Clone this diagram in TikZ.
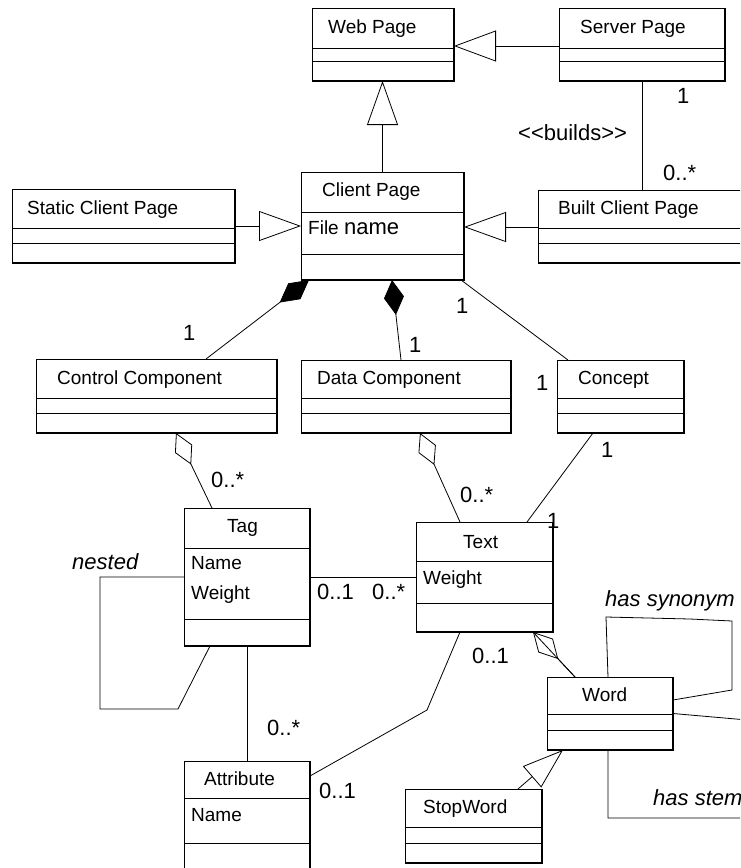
\documentclass[tikz,border=0pt]{standalone}
\usepackage{fontspec}
\setmainfont{Liberation Sans}
\usetikzlibrary{arrows.meta}

\tikzset{
  cls/.style={draw, line width=0.9pt, fill=white, anchor=north west,
    inner sep=0pt, outer sep=0pt},
  txt/.style={anchor=base west, inner sep=0pt, font=\fontsize{19}{22}\selectfont},
  mult/.style={anchor=base west, inner sep=0pt, font=\fontsize{22}{26}\selectfont},
  role/.style={anchor=base west, inner sep=0pt, font=\fontsize{22}{26}\selectfont\itshape},
  conn/.style={line width=0.8pt, line join=miter},
}

% class box: name, x1, y1, x2, y2, first divider, second divider
\newcommand\umlbox[7]{%
  \node[cls, minimum width={#4pt-#2pt}, minimum height={#5pt-#3pt}] (#1) at (#2,#3) {};
  \draw[line width=0.9pt] (#2,#6) -- (#4,#6);
  \draw[line width=0.9pt] (#2,#7) -- (#4,#7);
  \draw[line width=1.8pt] (#1.south west) -- (#1.south east);
  \draw[line width=1.3pt] (#1.south east) -- (#1.north east);
}

\begin{document}
\begin{tikzpicture}[x=1pt, y=-1pt]
\useasboundingbox (0,0) rectangle (740,868);
\fill[white] (0,0) rectangle (740,868);
\clip (0,0) rectangle (740,868);

% ---------- classes ----------
\umlbox{webpage}{312}{8}{454}{81}{48}{61}
\umlbox{server}{559}{8}{725}{81}{48}{61}
\umlbox{client}{301}{172}{464}{280}{212}{254}
\umlbox{static}{12}{189}{235}{263}{228}{243}
\umlbox{built}{538}{190}{800}{263}{228}{243}
\umlbox{control}{36}{359}{277}{433}{398}{413}
\umlbox{data}{301}{360}{511}{433}{398}{413}
\umlbox{concept}{557}{360}{684}{433}{398}{413}
\umlbox{tag}{184}{508}{310}{646}{548}{619}
\umlbox{text}{416}{522}{553}{632}{561}{603}
\umlbox{word}{547}{677}{673}{750}{714}{730}
\umlbox{attribute}{184}{761}{310}{900}{798}{843}
\umlbox{stopword}{405}{789}{542}{863}{827}{843}

% ---------- class texts ----------
\node[txt] (webpageT) at (328,33) {Web Page};
\node[txt] (serverT) at (580,33) {Server Page};
\node[txt] (clientT) at (322,196) {Client Page};
\node[txt] (clientA) at (308,234) {File {\fontsize{22}{26}\selectfont name}};
\node[txt] (staticT) at (27,214) {Static Client Page};
\node[txt] (builtT) at (558,214) {Built Client Page};
\node[txt] (controlT) at (57,384) {Control Component};
\node[txt] (dataT) at (317,384) {Data Component};
\node[txt] (conceptT) at (578,384) {Concept};
\node[txt] (tagT) at (227,532) {Tag};
\node[txt] (tagA) at (191,569) {Name};
\node[txt] (tagB) at (191,599) {Weight};
\node[txt] (textT) at (463,548) {Text};
\node[txt] (textA) at (423,584) {Weight};
\node[txt] (wordT) at (582,701) {Word};
\node[txt] (attributeT) at (204,785) {Attribute};
\node[txt] (attributeA) at (191,821) {Name};
\node[txt] (stopwordT) at (423,813) {StopWord};

% ---------- generalizations ----------
\draw[conn, -{Triangle[open, length=42pt, width=31pt]}]
  (server.west |- 0,46) -- (webpage.east |- 0,46);
\draw[conn, -{Triangle[open, length=44pt, width=31pt]}]
  (client.north) -- (client.north |- webpage.south);
\draw[conn, -{Triangle[open, length=42pt, width=30pt]}]
  (static.east) -- (static.east -| client.west);
\draw[conn, -{Triangle[open, length=42pt, width=30pt]}]
  (built.west |- 0,227) -- (client.east |- 0,227);
\draw[conn, -{Triangle[open, length=41pt, width=28pt]}]
  ([xshift=113pt]stopword.north west) -- ([xshift=16pt]word.south west);

% ---------- associations ----------
\draw[conn] (server.south) -- (server.south |- built.north);
\draw[conn, -{Diamond[length=37pt, width=20pt]}]
  ([xshift=170pt]control.north west) -- ([xshift=8pt]client.south west);
\draw[conn, -{Diamond[length=35pt, width=20pt]}]
  ([xshift=100pt]data.north west) -- ([xshift=91pt]client.south west);
\draw[conn] ([xshift=-3pt]client.south east) -- ([xshift=11pt]concept.north west);
\draw[conn, -{Diamond[open, length=35pt, width=19pt]}]
  ([xshift=28pt]tag.north west) -- ([xshift=140pt]control.south west);
\draw[conn, -{Diamond[open, length=35pt, width=19pt]}]
  ([xshift=44pt]text.north west) -- ([xshift=119pt]data.south west);
\draw[conn] ([xshift=36pt]concept.south west) -- ([xshift=111pt]text.north west);
\draw[conn] (tag.east) -- (text.west);
\draw[conn] (tag.south) -- (attribute.north);

% nested tags
\draw[conn] (tag.west) -- ++(-84,0) -- ++(0,132) -- ++(78,0)
  -- ([xshift=26pt]tag.south west);

% text to attribute
\coordinate (textbend) at (427,710);
\draw[conn] ([xshift=44pt]text.south west) -- (textbend)
  -- ([yshift=-15pt]attribute.north east);

% word aggregated in text
\draw[conn, -{Diamond[open, length=37pt, width=20pt]}]
  ([xshift=28pt]word.north west) -- ([xshift=117pt]text.south west);
\draw[conn] ([xshift=28pt]word.north west) -- ([xshift=117pt]text.south west);

% synonym loop
\draw[conn] ([xshift=61pt]word.north west) -- (606,617) -- (690,619)
  -- (732,621) -- (732,690) -- ([yshift=-23pt]word.north east);

% stem loop
\draw[conn] (word.east) -- (770,722) -- (770,818) -- (608,818)
  -- ([xshift=61pt]word.south west);

% ---------- multiplicities and role names ----------
\node[mult] (m1) at (677,103) {1};
\node[mult] (mbuilds) at (518,140) {<\kern0pt<builds>\kern0pt>};
\node[mult] (m2) at (663,180) {0..*};
\node[mult] (m3) at (183,340) {1};
\node[mult] (m4) at (409,352) {1};
\node[mult] (m5) at (456,313) {1};
\node[mult] (m6) at (536,390) {1};
\node[mult] (m7) at (601,457) {1};
\node[mult] (m8) at (211,487) {0..*};
\node[mult] (m9) at (460,502) {0..*};
\node[mult] (m10) at (547,528) {1};
\node[mult] (m11) at (317,599) {0..1};
\node[mult] (m12) at (372,599) {0..*};
\node[mult] (m13) at (472,663) {0..1};
\node[mult] (m14) at (267,735) {0..*};
\node[mult] (m15) at (319,798) {0..1};
\node[role] (rnested) at (72,569) {nested};
\node[role] (rsyn) at (605,606) {has synonym};
\node[role] (rstem) at (653,805) {has stem};
\end{tikzpicture}
\end{document}
